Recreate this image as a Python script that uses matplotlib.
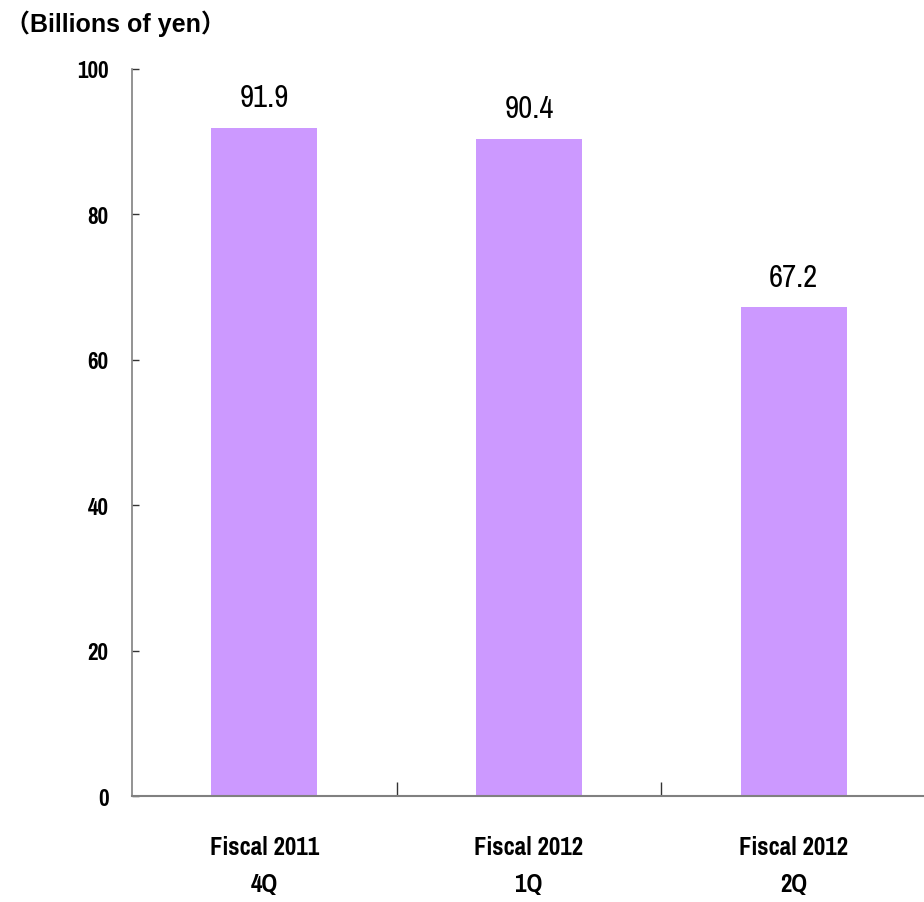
import matplotlib
matplotlib.use("Agg")
import matplotlib.pyplot as plt

# quarterly values, billions of yen
quarters = ["Fiscal 2011\n4Q", "Fiscal 2012\n1Q", "Fiscal 2012\n2Q"]
values = [91.9, 90.4, 67.2]
y_ticks = [0, 20, 40, 60, 80, 100]

narrow = ["Pragati Narrow", "PT Sans Narrow", "DejaVu Sans"]
bar_color = "#CC99FF"

fig = plt.figure(figsize=(9.24, 9.03), dpi=100)
ax = fig.add_axes([132 / 924, 1 - 797 / 903, 794 / 924, 727 / 903])

x = list(range(len(quarters)))
ax.bar(x, values, width=0.4, color=bar_color, zorder=2)

# value labels above bars
for xi, v in zip(x, values):
    ax.text(xi, v + 2.3, f"{v:.1f}", ha="center", va="bottom",
            fontsize=24, family=narrow)

ax.set_xlim(-0.5, len(quarters) - 0.5)
ax.set_ylim(0, 100)
ax.set_yticks(y_ticks)
ax.set_yticklabels([str(t) for t in y_ticks], fontsize=18, fontweight="bold", family=narrow)

# category labels below the axis, ticks at the category edges
ax.set_xticks([i + 0.5 for i in x])
ax.set_xticklabels([])
ax.tick_params(axis="x", direction="in", length=10, width=1, color="#333333")
ax.tick_params(axis="y", direction="in", length=5, width=1, color="#333333", pad=17)
for xi, lab in zip(x, quarters):
    ax.text(xi, -5.3, lab, ha="center", va="top", fontsize=19.5, fontweight="bold",
            family=narrow, linespacing=1.75)

for side in ["top", "right"]:
    ax.spines[side].set_visible(False)
ax.spines["left"].set_color("#808080")
ax.spines["bottom"].set_color("#808080")
ax.spines["left"].set_linewidth(1.2)
ax.spines["bottom"].set_linewidth(1.5)

fig.text(5 / 924, 1 - 24 / 903, "（Billions of yen）", ha="left", va="center",
         fontsize=18, fontweight="bold", family=["Liberation Sans", "Noto Sans CJK JP"])

fig.savefig("out.png", dpi=100)
